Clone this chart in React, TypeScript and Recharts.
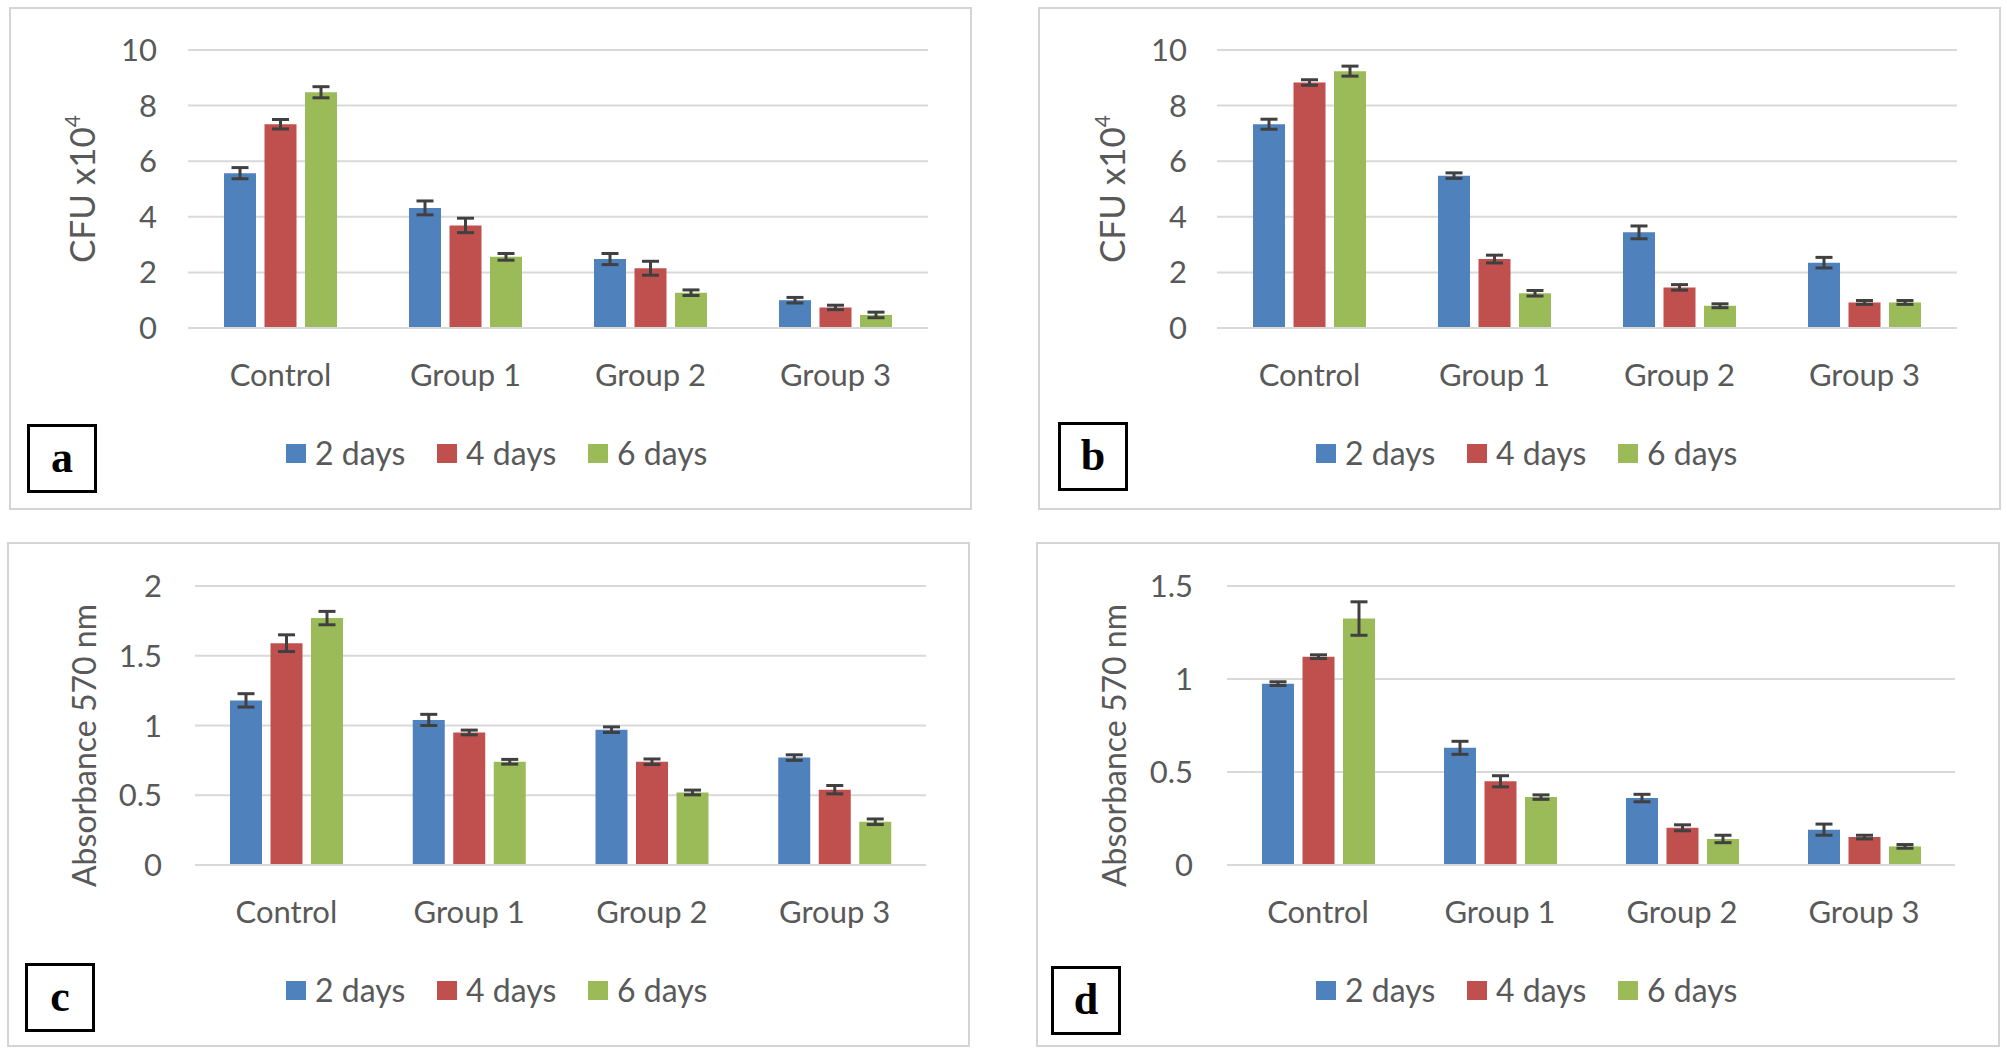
import React from 'react';
import { BarChart, Bar, XAxis, YAxis, CartesianGrid, ErrorBar, Legend } from 'recharts';

// ---------- data ----------
const categories = ['Control', 'Group 1', 'Group 2', 'Group 3'];
const seriesNames = ['2 days', '4 days', '6 days'];
const seriesColors = ['#4f81bd', '#c0504d', '#9bbb59'];

// panel a (CFU x10^4)
const a2 = [5.57, 4.32, 2.48, 1.0];
const a4 = [7.33, 3.69, 2.15, 0.74];
const a6 = [8.48, 2.56, 1.27, 0.47];
const a2err = [0.2, 0.25, 0.2, 0.1];
const a4err = [0.17, 0.26, 0.25, 0.08];
const a6err = [0.2, 0.12, 0.1, 0.1];

// panel b (CFU x10^4)
const b2 = [7.33, 5.48, 3.44, 2.35];
const b4 = [8.83, 2.48, 1.46, 0.92];
const b6 = [9.24, 1.25, 0.8, 0.92];
const b2err = [0.18, 0.1, 0.23, 0.19];
const b4err = [0.1, 0.14, 0.1, 0.07];
const b6err = [0.18, 0.1, 0.07, 0.07];

// panel c (Absorbance 570 nm)
const c2 = [1.18, 1.04, 0.97, 0.77];
const c4 = [1.59, 0.95, 0.74, 0.54];
const c6 = [1.77, 0.74, 0.52, 0.31];
const c2err = [0.048, 0.04, 0.02, 0.02];
const c4err = [0.06, 0.017, 0.02, 0.03];
const c6err = [0.048, 0.017, 0.017, 0.02];

// panel d (Absorbance 570 nm)
const d2 = [0.975, 0.63, 0.36, 0.19];
const d4 = [1.12, 0.45, 0.2, 0.15];
const d6 = [1.325, 0.365, 0.14, 0.1];
const d2err = [0.01, 0.035, 0.02, 0.03];
const d4err = [0.01, 0.03, 0.016, 0.01];
const d6err = [0.09, 0.012, 0.02, 0.01];

const ticksCFU = [0, 2, 4, 6, 8, 10];
const ticksC = [0, 0.5, 1, 1.5, 2];
const ticksD = [0, 0.5, 1, 1.5];

const build = (v: number[][], e: number[][]) =>
  categories.map((name, i) => ({
    name,
    v0: v[0][i], v1: v[1][i], v2: v[2][i],
    e0: e[0][i], e1: e[1][i], e2: e[2][i],
  }));

const dataA = build([a2, a4, a6], [a2err, a4err, a6err]);
const dataB = build([b2, b4, b6], [b2err, b4err, b6err]);
const dataC = build([c2, c4, c6], [c2err, c4err, c6err]);
const dataD = build([d2, d4, d6], [d2err, d4err, d6err]);

// ---------- layout ----------
const FONT = 'Lato, "Open Sans", sans-serif';
const TEXT = '#595959';
const GRID = '#d9d9d9';

type Panel = {
  id: string; left: number; top: number; width: number; height: number;
  marginTop: number; plotH: number; yW: number; marginRight: number;
  ticks: number[]; tickMargin: number; data: any[];
  title: string; sup: string; titleSize: number; titleDist: number; titleShift: number;
  legendLeft: number; legendMid: number; boxLeft: number; boxTop: number;
};

const panels: Panel[] = [
  { id: 'a', left: 9, top: 7, width: 963, height: 503, marginTop: 43, plotH: 278, yW: 179, marginRight: 44,
    ticks: ticksCFU, tickMargin: 31, data: dataA, title: 'CFU x10', sup: '4', titleSize: 35, titleDist: 105, titleShift: 0,
    legendLeft: 277, legendMid: 446, boxLeft: 18, boxTop: 417 },
  { id: 'b', left: 1038, top: 7, width: 963, height: 503, marginTop: 43, plotH: 278, yW: 179, marginRight: 44,
    ticks: ticksCFU, tickMargin: 30, data: dataB, title: 'CFU x10', sup: '4', titleSize: 35, titleDist: 104, titleShift: 0,
    legendLeft: 278, legendMid: 446, boxLeft: 20, boxTop: 415 },
  { id: 'c', left: 7, top: 542, width: 963, height: 505, marginTop: 44, plotH: 279, yW: 188, marginRight: 44,
    ticks: ticksC, tickMargin: 33, data: dataC, title: 'Absorbance 570 nm', sup: '', titleSize: 32, titleDist: 110, titleShift: 20,
    legendLeft: 279, legendMid: 448, boxLeft: 18, boxTop: 421 },
  { id: 'd', left: 1036, top: 542, width: 964, height: 505, marginTop: 44, plotH: 279, yW: 191, marginRight: 45,
    ticks: ticksD, tickMargin: 34, data: dataD, title: 'Absorbance 570 nm', sup: '', titleSize: 32, titleDist: 112, titleShift: 20,
    legendLeft: 280, legendMid: 448, boxLeft: 15, boxTop: 424 },
];

const X_AXIS_H = 60;

const LegendBox = (props: any) => {
  const payload = props.payload || [];
  return (
    <div style={{ display: 'flex', alignItems: 'center', height: 40, fontFamily: FONT, fontSize: 32, color: TEXT, whiteSpace: 'nowrap' }}>
      {payload.map((p: any, i: number) => (
        <div key={i} style={{ display: 'flex', alignItems: 'center', width: i < payload.length - 1 ? 151 : 'auto' }}>
          <div style={{ width: 20, height: 19, background: p.color, marginRight: 9 }} />
          <span style={{ lineHeight: '40px' }}>{p.value}</span>
        </div>
      ))}
    </div>
  );
};

const PanelChart = ({ p }: { p: Panel }) => {
  const marginBottom = p.height - p.marginTop - p.plotH - X_AXIS_H;
  const yMax = p.ticks[p.ticks.length - 1];
  const renderTitle = (lp: any) => {
    const vb = lp.viewBox || {};
    const plotLeft = (vb.x ?? 0) + (vb.width ?? p.yW);
    const cx = plotLeft - p.titleDist;
    const cy = (vb.y ?? p.marginTop) + (vb.height ?? p.plotH) / 2 + p.titleShift;
    return (
      <text x={cx} y={cy} dy="0.35em" textAnchor="middle" transform={`rotate(-90, ${cx}, ${cy})`}
        fill={TEXT} fontFamily={FONT} fontSize={p.titleSize}>
        {p.title}
        {p.sup ? <tspan dy="-0.75em" fontSize={p.titleSize * 0.6}>{p.sup}</tspan> : null}
      </text>
    );
  };
  return (
    <div style={{ position: 'absolute', left: p.left, top: p.top, width: p.width, height: p.height, background: '#fff' }}>
      <div style={{ position: 'absolute', inset: 0, border: '2px solid #d4d4d4', boxSizing: 'border-box' }} />
      <div style={{ position: 'absolute', left: 0, top: 0 }}>
        <BarChart width={p.width} height={p.height} data={p.data} barGap={8.5}
          margin={{ top: p.marginTop, right: p.marginRight, bottom: marginBottom, left: 0 }}>
          <CartesianGrid vertical={false} stroke={GRID} strokeWidth={2} />
          <XAxis dataKey="name" height={X_AXIS_H} axisLine={{ stroke: GRID, strokeWidth: 2 }} tickLine={false}
            tickSize={0} tickMargin={36} interval={0}
            tick={{ fill: TEXT, fontSize: 31, fontFamily: FONT }} />
          <YAxis type="number" domain={[0, yMax]} ticks={p.ticks} width={p.yW} axisLine={false} tickLine={false}
            tickSize={0} tickMargin={p.tickMargin} interval={0} allowDataOverflow
            tick={{ fill: TEXT, fontSize: 31, fontFamily: FONT }}
            label={renderTitle} />
          <Legend layout="horizontal" verticalAlign="middle" align="center" content={LegendBox}
            wrapperStyle={{ left: p.legendLeft, top: p.legendMid - 20, width: 520, height: 40 }} />
          {seriesNames.map((n, i) => (
            <Bar key={n} dataKey={`v${i}`} name={n} fill={seriesColors[i]} barSize={32} isAnimationActive={false}>
              <ErrorBar dataKey={`e${i}`} width={8.5} stroke="#404040" strokeWidth={3} isAnimationActive={false} />
            </Bar>
          ))}
        </BarChart>
      </div>
      <div style={{
        position: 'absolute', left: p.boxLeft, top: p.boxTop, width: 70, height: 69, boxSizing: 'border-box',
        border: '3px solid #000', display: 'flex', alignItems: 'center', justifyContent: 'center',
        fontFamily: '"Liberation Serif", "Times New Roman", serif', fontWeight: 'bold', fontSize: 44, color: '#000', background: '#fff',
      }}>
        <span style={{ lineHeight: 1, marginTop: -2 }}>{p.id}</span>
      </div>
    </div>
  );
};

export default function App() {
  return (
    <div style={{ position: 'absolute', left: 0, top: 0, width: 2007, height: 1055, background: '#fff', overflow: 'hidden' }}>
      {panels.map((p) => (
        <PanelChart key={p.id} p={p} />
      ))}
    </div>
  );
}
